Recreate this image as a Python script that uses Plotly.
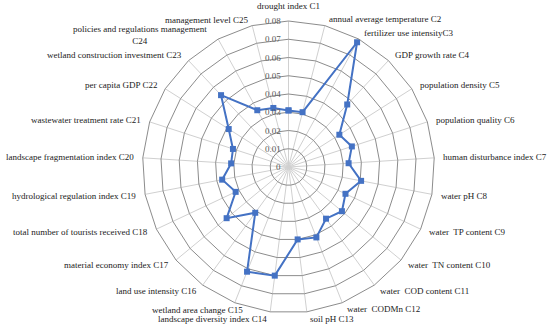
import math
import plotly.graph_objects as go

categories = [
    "drought index C1", "annual average temperature C2", "fertilizer use intensityC3",
    "GDP growth rate C4", "population density C5", "population quality C6",
    "human disturbance index C7", "water pH C8", "water  TP content C9",
    "water  TN content C10", "water  COD content C11", "water  CODMn C12",
    "soil pH C13", "landscape diversity index C14", "wetland area change C15",
    "land use intensity C16", "material economy index C17",
    "total number of tourists received C18", "hydrological regulation index C19",
    "landscape fragmentation index C20", "wastewater treatment rate C21",
    "per capita GDP C22", "wetland construction investment C23",
    "policies and regulations management<br>C24", "management level C25",
]
values = [0.031, 0.031, 0.078, 0.047, 0.033, 0.0365, 0.033, 0.0405, 0.0345,
          0.038, 0.035, 0.0415, 0.040, 0.060, 0.0617, 0.031, 0.044, 0.032,
          0.037, 0.0315, 0.032, 0.0388, 0.054, 0.0355, 0.0334]
radial_ticks = [0, 0.01, 0.02, 0.03, 0.04, 0.05, 0.06, 0.07, 0.08]
r_max = 0.08

W, H = 550, 329
cx, cy, R = 288.5, 167, 146
FONT = "Liberation Serif"
# small label nudges (pixels) where the reference shifts labels to avoid crowding
label_nudge = {14: (13, 1), 23: (-6, 2), 24: (0, 1.5)}

fig = go.Figure()
fig.add_trace(go.Scatterpolar(
    r=values + values[:1],
    theta=categories + categories[:1],
    mode="lines+markers",
    line=dict(color="#4472C4", width=2),
    marker=dict(symbol="square", size=6, color="#4472C4"),
))

n = len(categories)
annotations = []
for i, lab in enumerate(categories):
    th = math.radians(360.0 * i / n)
    s, c = math.sin(th), math.cos(th)
    px = cx + (R + 7) * s
    py = cy - (R + 7) * c
    if abs(s) < 0.05:
        xanchor = "center"
        py -= 8 * c
    else:
        xanchor = "left" if s > 0 else "right"
    dx, dy = label_nudge.get(i, (0, 0))
    px += dx
    py += dy
    annotations.append(dict(
        text=lab, x=px / W, y=1 - py / H, xref="paper", yref="paper",
        xanchor=xanchor, yanchor="middle", showarrow=False, align="center",
        font=dict(family=FONT, size=9, color="#222222"),
    ))
for t in radial_ticks:
    py = cy - R * t / r_max
    annotations.append(dict(
        text="%g" % t, x=(cx - 6) / W, y=1 - py / H, xref="paper", yref="paper",
        xanchor="right", yanchor="middle", showarrow=False,
        font=dict(family=FONT, size=9, color="#595959"),
    ))

fig.update_layout(
    width=W, height=H,
    margin=dict(l=0, r=0, t=0, b=0),
    paper_bgcolor="white",
    showlegend=False,
    annotations=annotations,
    polar=dict(
        domain=dict(x=[(cx - R) / W, (cx + R) / W],
                    y=[(H - cy - R) / H, (H - cy + R) / H]),
        bgcolor="white",
        gridshape="linear",
        angularaxis=dict(
            direction="clockwise", rotation=90,
            gridcolor="#d0d0d0", gridwidth=1,
            linecolor="#8c8c8c", linewidth=1,
            showline=True, ticks="", showticklabels=False,
        ),
        radialaxis=dict(
            range=[0, r_max], tickvals=radial_ticks,
            angle=90, showticklabels=False,
            gridcolor="#8c8c8c", gridwidth=1,
            showline=False, ticks="",
        ),
    ),
)
fig.write_html("out.html", config={"displayModeBar": False},
               post_script="document.body.style.margin='0';")
